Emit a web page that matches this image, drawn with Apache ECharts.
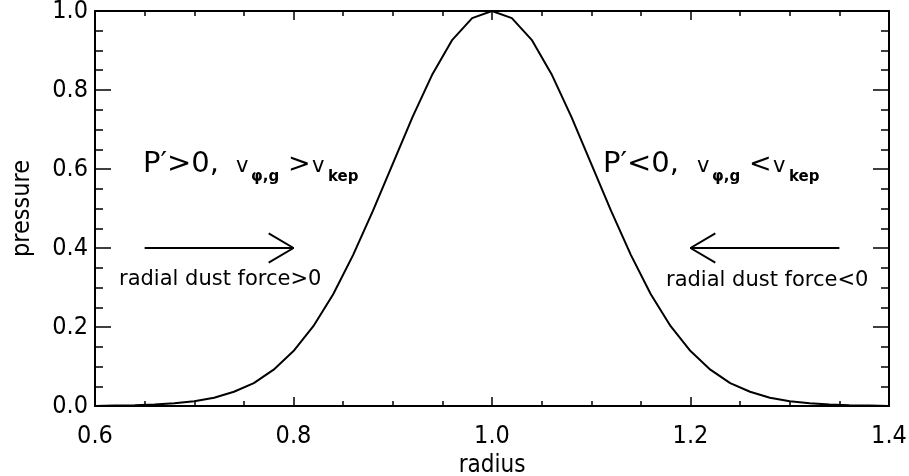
<!DOCTYPE html>
<html>
<head>
<meta charset="utf-8">
<script src="https://cdn.jsdelivr.net/npm/echarts@6/dist/echarts.min.js"></script>
<style>
  html, body { margin: 0; padding: 0; background: #fff; }
  #chart { width: 909px; height: 476px; }
</style>
</head>
<body>
<div id="chart"></div>
<script>
// pressure bump
var radius = [0.60, 0.62, 0.64, 0.66, 0.68, 0.70, 0.72, 0.74, 0.76, 0.78,
  0.80, 0.82, 0.84, 0.86, 0.88, 0.90, 0.92, 0.94, 0.96, 0.98,
  1.00, 1.02, 1.04, 1.06, 1.08, 1.10, 1.12, 1.14, 1.16, 1.18,
  1.20, 1.22, 1.24, 1.26, 1.28, 1.30, 1.32, 1.34, 1.36, 1.38, 1.40];
var pressure = [0.000, 0.001, 0.002, 0.004, 0.007, 0.012, 0.021, 0.036, 0.058, 0.092,
  0.139, 0.202, 0.283, 0.382, 0.494, 0.613, 0.732, 0.840, 0.927, 0.982,
  1.000, 0.982, 0.927, 0.840, 0.732, 0.613, 0.494, 0.382, 0.283, 0.202,
  0.139, 0.092, 0.058, 0.036, 0.021, 0.012, 0.007, 0.004, 0.002, 0.001, 0.000];

// arrows (data coords)
var arrowOutShaft = [[0.65, 0.4], [0.80, 0.4]];
var arrowOutHead = [[0.775, 0.437], [0.80, 0.4], [0.775, 0.363]];
var arrowInShaft = [[1.35, 0.4], [1.20, 0.4]];
var arrowInHead = [[1.225, 0.437], [1.20, 0.4], [1.225, 0.363]];

var xTicks = { min: 0.6, max: 1.4, step: 0.2 };
var yTicks = { min: 0.0, max: 1.0, step: 0.2 };

var font = 'DejaVu Sans';
var axisFont = 'DejaVu Sans Condensed';
var chart = echarts.init(document.getElementById('chart'));

function zip(a, b) {
  var out = [];
  for (var i = 0; i < a.length; i++) out.push([a[i], b[i]]);
  return out;
}

function axisBase(ticks, tickLen, minorLen) {
  return {
    type: 'value',
    min: ticks.min,
    max: ticks.max,
    interval: ticks.step,
    axisLine: { show: true, onZero: false, lineStyle: { color: '#000', width: 2 } },
    axisTick: { show: true, inside: true, length: tickLen, lineStyle: { color: '#000', width: 1.5 } },
    minorTick: { show: true, splitNumber: 4, length: minorLen, lineStyle: { color: '#000', width: 1.5 } },
    splitLine: { show: false },
    minorSplitLine: { show: false },
    axisLabel: {
      show: true,
      color: '#000',
      fontFamily: axisFont,
      fontSize: 25,
      formatter: function (v) { return v.toFixed(1); }
    }
  };
}

var xBottom = axisBase(xTicks, 9, 5);
xBottom.position = 'bottom';
xBottom.axisLabel.margin = 18;
xBottom.name = 'radius';
xBottom.nameLocation = 'middle';
xBottom.nameGap = 46;
xBottom.nameTextStyle = { color: '#000', fontFamily: axisFont, fontSize: 24 };

var xTop = axisBase(xTicks, 9, 5);
xTop.position = 'top';
xTop.axisLabel = { show: false };

var yLeft = axisBase(yTicks, 16, 8);
yLeft.position = 'left';
yLeft.axisLabel.margin = 7;
yLeft.name = 'pressure';
yLeft.nameLocation = 'middle';
yLeft.nameGap = 60;
yLeft.nameTextStyle = { color: '#000', fontFamily: axisFont, fontSize: 25 };

var yRight = axisBase(yTicks, 16, 8);
yRight.position = 'right';
yRight.axisLabel = { show: false };

function lineSeries(data) {
  return {
    type: 'line',
    data: data,
    symbol: 'none',
    silent: true,
    lineStyle: { color: '#000', width: 2 },
    animation: false
  };
}

// text pieces of the two annotations
function txt(text, x, y, size, bold) {
  return {
    type: 'text',
    x: x,
    y: y,
    silent: true,
    style: {
      text: text,
      fill: '#000',
      font: (bold ? 'bold ' : '') + size + 'px "' + font + '"',
      verticalAlign: 'middle'
    }
  };
}

var graphics = [
  txt('P\u2032>0,', 143, 164, 29, false),
  txt('v', 236, 167, 21, false),
  txt('\u03c6,g', 251, 177, 15, true),
  txt('>', 288, 165, 27, false),
  txt('v', 312, 167, 21, false),
  txt('kep', 328, 177, 15, true),
  txt('radial dust force>0', 119, 280, 21, false),

  txt('P\u2032<0,', 603, 164, 29, false),
  txt('v', 697, 167, 21, false),
  txt('\u03c6,g', 712, 177, 15, true),
  txt('<', 749, 165, 27, false),
  txt('v', 773, 167, 21, false),
  txt('kep', 789, 177, 15, true),
  txt('radial dust force<0', 666, 281, 21, false)
];

chart.setOption({
  animation: false,
  backgroundColor: '#fff',
  grid: { left: 95, right: 20, top: 11, bottom: 70, containLabel: false, outerBoundsMode: 'none' },
  xAxis: [xBottom, xTop],
  yAxis: [yLeft, yRight],
  series: [
    lineSeries(zip(radius, pressure)),
    lineSeries(arrowOutShaft),
    lineSeries(arrowOutHead),
    lineSeries(arrowInShaft),
    lineSeries(arrowInHead)
  ],
  graphic: graphics
});
</script>
</body>
</html>
